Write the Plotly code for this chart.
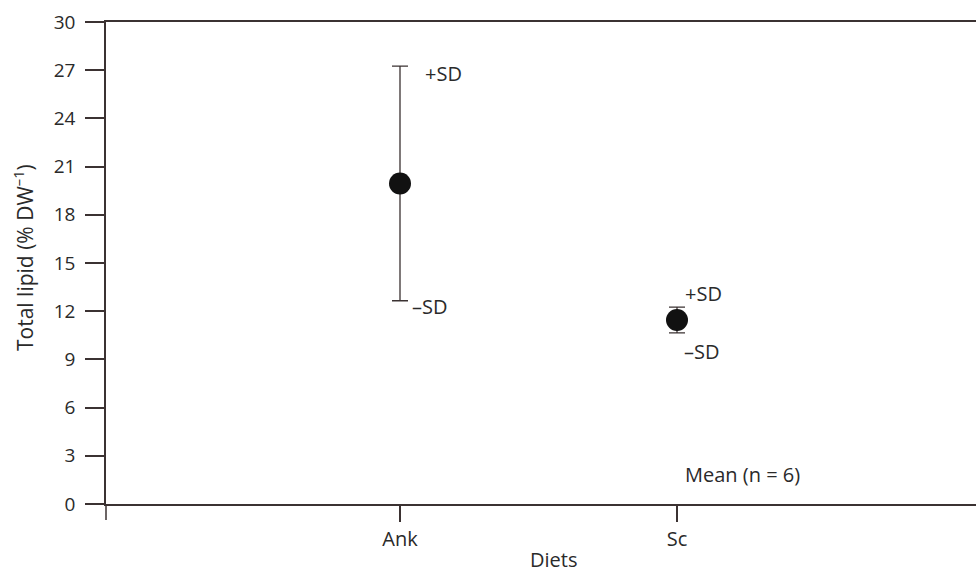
import plotly.graph_objects as go

diets = ["Ank", "Sc"]
mean_lipid = [19.95, 11.45]
sd_lipid = [7.3, 0.8]
y_ticks = [0, 3, 6, 9, 12, 15, 18, 21, 24, 27, 30]

AX = "#3b3232"
FONT = "Open Sans, Noto Sans, DejaVu Sans, sans-serif"
TXT = "#2a2a2a"

xpos = list(range(len(diets)))

fig = go.Figure()
fig.add_trace(go.Scatter(
    x=xpos, y=mean_lipid, mode="markers",
    marker=dict(size=22, color="#111111", line=dict(width=0)),
    error_y=dict(type="data", array=sd_lipid, visible=True,
                 color=AX, thickness=1.3, width=8),
    showlegend=False, hoverinfo="skip",
))

# +SD / -SD labels anchored to the caps
plus_shift = [(23, -7), (6, 14)]
minus_shift = [(10, -6), (5, -19)]
for i, (m, s) in enumerate(zip(mean_lipid, sd_lipid)):
    fig.add_annotation(x=xpos[i], y=m + s, text="+SD", showarrow=False,
                       xanchor="left", yanchor="middle",
                       xshift=plus_shift[i][0], yshift=plus_shift[i][1],
                       font=dict(family=FONT, size=20, color=TXT))
    fig.add_annotation(x=xpos[i], y=m - s, text="\u2013SD", showarrow=False,
                       xanchor="left", yanchor="middle",
                       xshift=minus_shift[i][0], yshift=minus_shift[i][1],
                       font=dict(family=FONT, size=20, color=TXT))

fig.add_annotation(x=xpos[1], y=0, text="Mean (n = 6)", showarrow=False,
                   xanchor="left", yanchor="middle", xshift=6, yshift=30,
                   font=dict(family=FONT, size=20, color=TXT))

# axis titles
fig.add_annotation(xref="paper", yref="paper", x=(553 - 106) / (976 - 106), y=0,
                   yshift=-55, text="Diets", showarrow=False,
                   xanchor="center", yanchor="middle",
                   font=dict(family=FONT, size=20, color=TXT))
fig.add_annotation(xref="paper", yref="paper", x=0, xshift=-83,
                   y=(504 - 258) / 482, text="Total lipid (% DW<sup>\u20131</sup>)",
                   textangle=-90, showarrow=False,
                   xanchor="center", yanchor="middle",
                   font=dict(family=FONT, size=21, color=TXT))

# y-axis spine continues a little below the x-axis
fig.add_shape(type="line", xref="paper", yref="paper",
              x0=0, x1=0, y0=0, y1=-16 / 482,
              line=dict(color=AX, width=1.5))

fig.update_xaxes(
    range=[-294 / 277, 1 + 299 / 277],
    tickvals=xpos, ticktext=diets,
    showline=True, linecolor=AX, linewidth=1.5, mirror=True,
    ticks="outside", ticklen=16, tickwidth=1.5, tickcolor=AX,
    showgrid=False, zeroline=False,
    tickfont=dict(family=FONT, size=20, color=TXT),
)
fig.update_yaxes(
    range=[0, 30], tickvals=y_ticks,
    showline=True, linecolor=AX, linewidth=1.5,
    ticks="outside", ticklen=19, tickwidth=1.5, tickcolor=AX,
    ticklabelstandoff=6,
    showgrid=False, zeroline=False,
    tickfont=dict(family=FONT, size=19, color=TXT),
)

fig.update_layout(
    width=976, height=572,
    margin=dict(l=106, r=0, t=22, b=68),
    plot_bgcolor="white", paper_bgcolor="white",
)

fig.write_html("out.html", config={"displayModeBar": False},
               post_script="document.body.style.margin='0';document.body.style.overflow='hidden';")
